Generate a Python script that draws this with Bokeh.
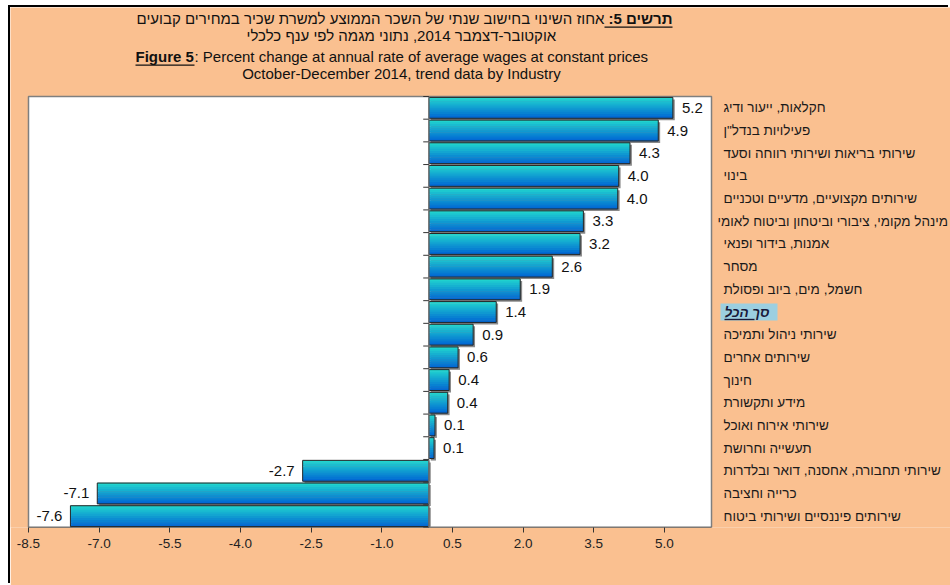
from bokeh.plotting import figure
from bokeh.models import (ColumnDataSource, FixedTicker, PrintfTickFormatter, Label,
                          BoxAnnotation, Range1d)
from bokeh.core.properties import value as pval
from bokeh.embed import file_html
from bokeh.resources import INLINE

# ---------------- data ----------------
categories = [
    "חקלאות, ייעור ודיג",
    "פעילויות בנדל\"ן",
    "שירותי בריאות ושירותי  רווחה וסעד",
    "בינוי",
    "שירותים מקצועיים, מדעיים וטכניים",
    "מינהל מקומי, ציבורי וביטחון וביטוח לאומי",
    "אמנות, בידור ופנאי",
    "מסחר",
    "חשמל, מים, ביוב ופסולת",
    "סך הכל",
    "שירותי ניהול ותמיכה",
    "שירותים אחרים",
    "חינוך",
    "מידע ותקשורת",
    "שירותי אירוח ואוכל",
    "תעשייה וחרושת",
    "שירותי תחבורה, אחסנה, דואר ובלדרות",
    "כרייה וחציבה",
    "שירותים פיננסיים ושירותי ביטוח",
]
values = [5.18, 4.87, 4.27, 4.03, 4.01, 3.28, 3.21, 2.62, 1.94, 1.43,
          0.94, 0.62, 0.43, 0.40, 0.13, 0.11, -2.68, -7.04, -7.61]
value_labels = ["5.2", "4.9", "4.3", "4.0", "4.0", "3.3", "3.2", "2.6", "1.9", "1.4",
                "0.9", "0.6", "0.4", "0.4", "0.1", "0.1", "-2.7", "-7.1", "-7.6"]
total_label = "סך הכל"
x_ticks = [-8.5, -7.0, -5.5, -4.0, -2.5, -1.0, 0.5, 2.0, 3.5, 5.0]
x_min, x_max = -8.5, 6.0

title_he_bold = "\u200fתרשים 5:\u200f"
title_he_rest = "אחוז השינוי בחישוב שנתי של השכר הממוצע למשרת שכיר במחירים קבועים"
title_he_line2 = "אוקטובר-דצמבר  2014, נתוני מגמה לפי ענף כלכלי"
title_en_bold = "Figure 5"
title_en_rest = ": Percent change at annual  rate of average wages at constant prices"
title_en_line2 = "October-December  2014, trend data by Industry"

# ---------------- layout / styling ----------------
FONT = "Liberation Sans"
PEACH = "#FAC090"
n = len(categories)
ys = [n - 1 - i for i in range(n)]

OX, OY = 10, 7                  # canvas offset on the page (white margin + black edge)
W, H = 950 - OX, 585 - OY
# plot area (white box) in page pixels
PX0, PY0, PX1, PY1 = 28, 96, 711, 527
PL, PT, PW, PH = PX0 - OX, PY0 - OY, PX1 - PX0, PY1 - PY0
BOTTOM = H - PT - PH
kx = PW / (x_max - x_min)
ky = PH / n
y_lo, y_hi = -0.5, n - 0.5

p = figure(width=W, height=H, output_backend="svg", toolbar_location=None,
           x_range=Range1d(x_min - PL / kx, x_max + (W - PL - PW) / kx),
           y_range=Range1d(y_lo, y_hi + PT / ky),
           y_axis_location=None, tools="")
p.min_border_left = 0
p.min_border_top = 0
p.min_border_right = 0
p.min_border_bottom = BOTTOM
p.background_fill_color = PEACH
p.border_fill_color = PEACH
p.outline_line_color = None
p.xgrid.visible = False
p.ygrid.visible = False
p.styles = {"margin-left": f"{OX}px", "margin-top": f"{OY}px",
            "box-shadow": "-2px -2px 0 0 #000"}

# white plot area
p.quad(left=[x_min], right=[x_max], bottom=[y_lo], top=[y_hi], fill_color="white",
       line_color="#7f7f7f", line_width=1.5)
p.segment(x0=[x_min], x1=[x_max], y0=[y_lo], y1=[y_lo], line_color="#444444", line_width=1.5)

def sx(px):
    return px - OX

def sy(py):
    return PY1 - py

# bars
lefts = [min(0, v) for v in values]
rights = [max(0, v) for v in values]
bar_h = 0.92
src = ColumnDataSource(dict(y=ys, left=lefts, right=rights))

p.hbar(y=[y - 0.09 for y in ys], left=[l + 0.04 for l in lefts],
       right=[r + 0.04 for r in rights], height=bar_h, fill_color="#8a8a8a",
       line_color=None)

top_c = (34, 218, 206)
bot_c = (0, 100, 212)
S = 10
for k in range(S):
    t = (k + 0.5) / S
    c = tuple(int(round(top_c[j] + (bot_c[j] - top_c[j]) * t)) for j in range(3))
    col = "#%02x%02x%02x" % c
    p.hbar(y=[y + bar_h / 2 - (k + 0.5) * bar_h / S for y in ys], left=lefts, right=rights,
           height=bar_h / S * 1.2, fill_color=col, line_color=None)
p.hbar(y="y", left="left", right="right", height=bar_h, source=src,
       fill_color=None, line_color="#262626", line_width=1)

# zero line and category ticks
p.segment(x0=[0], x1=[0], y0=[y_lo], y1=[y_hi], line_color="#7f7f7f", line_width=1)
bounds = [y - 0.5 for y in ys] + [y_hi]
p.segment(x0=[-0.12] * len(bounds), x1=[0] * len(bounds), y0=bounds, y1=bounds,
          line_color="#333333", line_width=1)

# value labels
pos = ColumnDataSource(dict(x=[v for v in values if v >= 0],
                            y=[y for y, v in zip(ys, values) if v >= 0],
                            t=[l for l, v in zip(value_labels, values) if v >= 0]))
neg = ColumnDataSource(dict(x=[v for v in values if v < 0],
                            y=[y for y, v in zip(ys, values) if v < 0],
                            t=[l for l, v in zip(value_labels, values) if v < 0]))
p.text(x="x", y="y", text="t", source=pos, x_offset=9, text_align="left",
       text_baseline="middle", text_font=pval(FONT), text_font_size="15px",
       text_color="#111111")
p.text(x="x", y="y", text="t", source=neg, x_offset=-8, text_align="right",
       text_baseline="middle", text_font=pval(FONT), text_font_size="15px",
       text_color="#111111")

# category labels (right of plot area)
total_idx = categories.index(total_label)
p.add_layout(BoxAnnotation(left=sx(720), right=sx(777), bottom=ys[total_idx] - 0.38,
                           top=ys[total_idx] + 0.38, level="underlay",
                           left_units="screen", right_units="screen",
                           fill_color="#9ccfe0", fill_alpha=1, line_color=None))
others = [i for i in range(n) if i != total_idx]
cat_src = ColumnDataSource(dict(
    x=[x_max] * len(others), y=[ys[i] for i in others],
    t=[categories[i] for i in others],
    off=[6 if len(categories[i]) > 38 else 12 for i in others]))
p.text(x="x", y="y", text="t", source=cat_src, x_offset="off", text_align="left",
       text_baseline="middle", text_font=pval(FONT), text_font_size="13.5px",
       text_color="#1a1a1a")
p.text(x=[x_max], y=[ys[total_idx]], text=[total_label], x_offset=13, text_align="left",
       text_baseline="middle", text_font=pval(FONT), text_font_size="13.5px",
       text_font_style="bold italic", text_color="#1a1a3a")
p.add_layout(BoxAnnotation(left=sx(724), right=sx(754), bottom=ys[total_idx] - 0.36,
                           top=ys[total_idx] - 0.30,
                           left_units="screen", right_units="screen",
                           fill_color="#1a1a3a", fill_alpha=1, line_color=None))

# x axis
p.xaxis.ticker = FixedTicker(ticks=x_ticks)
p.xaxis.formatter = PrintfTickFormatter(format="%.1f")
p.xaxis.major_label_text_font = FONT
p.xaxis.major_label_text_font_size = "13.5px"
p.xaxis.major_label_text_color = "#222222"
p.xaxis.axis_line_color = None
p.xaxis.major_tick_line_color = "#333333"
p.xaxis.major_tick_out = 5
p.xaxis.major_tick_in = 0
p.xaxis.minor_tick_line_color = None
p.xaxis.major_label_standoff = 6

# titles
def lab(text, px, py, align, bold=False):
    p.add_layout(Label(x=sx(px), y=sy(py), x_units="screen", y_units="screen", text=text,
                       text_font=FONT, text_font_size="15px",
                       text_font_style="bold" if bold else "normal",
                       text_color="#111111", text_align=align, text_baseline="middle"))

def underline(px0, px1, py):
    p.add_layout(BoxAnnotation(left=sx(px0), right=sx(px1), top=sy(py), bottom=sy(py + 1.3),
                               left_units="screen", right_units="screen",
                               top_units="screen", bottom_units="screen",
                               fill_color="#111111", fill_alpha=1, line_color=None))

lab(title_he_bold, 672, 18, "right", bold=True)
lab(title_he_rest, 604, 18, "right")
underline(604, 672, 26)
lab(title_he_line2, 403, 35, "center")
lab(title_en_bold, 135, 56, "left", bold=True)
lab(title_en_rest, 194, 56, "left")
underline(135, 194, 64)
lab(title_en_line2, 403, 73, "center")

open("out.html", "w").write(file_html(p, INLINE))
